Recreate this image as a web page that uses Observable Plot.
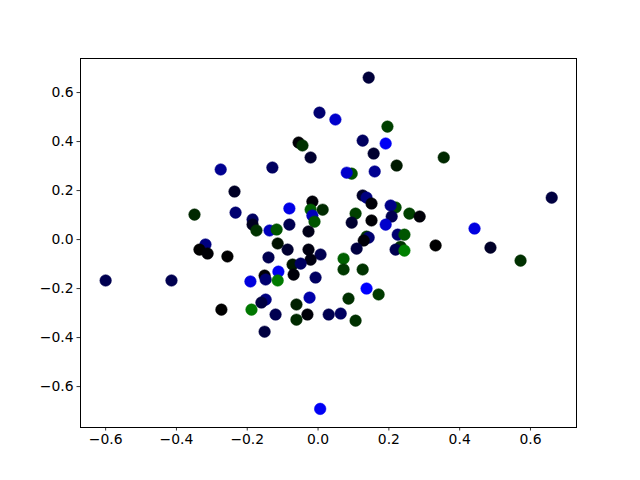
<!DOCTYPE html>
<html>
<head>
<meta charset="utf-8">
<script src="https://cdn.jsdelivr.net/npm/d3@7"></script>
<script src="https://cdn.jsdelivr.net/npm/@observablehq/plot@0.6"></script>
<style>
  html, body { margin: 0; padding: 0; background: #fff; }
  #chart { width: 640px; height: 480px; }
  svg { font-family: "DejaVu Sans", sans-serif; }
</style>
</head>
<body>
<div id="chart"></div>
<script>
const xs = [0.143,0.004,0.049,0.196,-0.055,-0.044,0.126,0.191,-0.021,0.157,
  0.355,0.222,-0.275,-0.129,0.095,0.081,0.160,-0.236,0.660,0.126,
  0.137,0.151,-0.016,-0.081,-0.021,0.013,-0.016,-0.010,-0.349,-0.233,
  0.219,0.205,0.106,0.258,0.287,0.208,0.095,0.151,0.191,0.442,
  -0.185,-0.185,-0.174,-0.137,-0.117,-0.081,-0.027,0.225,0.244,0.137,
  0.143,0.129,-0.114,-0.318,-0.335,-0.312,-0.256,-0.086,-0.027,0.007,
  -0.140,-0.021,-0.072,-0.049,-0.069,-0.007,-0.600,-0.414,-0.112,-0.151,
  -0.148,-0.191,-0.114,0.109,0.233,0.219,0.244,0.332,0.487,0.572,
  0.072,0.072,0.126,0.137,0.171,0.086,-0.024,-0.061,-0.148,-0.160,
  -0.273,-0.188,-0.120,-0.030,-0.061,0.030,0.064,0.106,-0.151,0.006];
const ys = [0.661,0.518,0.490,0.461,0.396,0.384,0.404,0.392,0.335,0.351,
  0.335,0.302,0.286,0.294,0.269,0.273,0.278,0.196,0.171,0.180,
  0.171,0.147,0.155,0.127,0.122,0.122,0.098,0.073,0.102,0.110,
  0.131,0.139,0.106,0.106,0.094,0.094,0.069,0.078,0.061,0.045,
  0.082,0.061,0.037,0.037,0.041,0.061,0.033,0.020,0.020,0.012,
  0.008,-0.004,-0.016,-0.020,-0.041,-0.057,-0.069,-0.041,-0.041,-0.061,
  -0.073,-0.082,-0.102,-0.098,-0.143,-0.155,-0.167,-0.167,-0.131,-0.147,
  -0.163,-0.171,-0.167,-0.037,-0.029,-0.041,-0.045,-0.024,-0.033,-0.086,
  -0.078,-0.122,-0.122,-0.200,-0.224,-0.241,-0.237,-0.265,-0.245,-0.257,
  -0.286,-0.286,-0.306,-0.306,-0.327,-0.306,-0.302,-0.331,-0.376,-0.691];
const colors = ["#00003a","#000070","#0000cc","#004000","#000005","#003300","#000060","#0000f5","#000030","#000030",
  "#002800","#001a00","#000090","#000060","#005000","#0000cc","#000090","#000025","#000040","#000028",
  "#000080","#000008","#000008","#0000e6","#006000","#002a00","#0000bb","#005500","#002800","#000070",
  "#004800","#000088","#004000","#004000","#000008","#000050","#000030","#000005","#0000cc","#0000e0",
  "#000060","#000020","#003300","#0000bb","#005500","#000050","#000018","#000070","#005500","#003800",
  "#000070","#000008","#001200","#000080","#000000","#000005","#000000","#000030","#000010","#000050",
  "#000050","#000010","#001800","#000060","#000008","#000060","#000050","#000050","#0000f0","#000005",
  "#000070","#0000dd","#007a00","#000040","#003300","#000050","#008000","#000000","#000028","#003000",
  "#006000","#003800","#003300","#0000ff","#003a00","#003000","#0000aa","#002000","#000080","#000040",
  "#000000","#007700","#000050","#000008","#002a00","#000050","#000060","#003000","#000040","#0000f5"];
const xTicks = [-0.6, -0.4, -0.2, 0.0, 0.2, 0.4, 0.6];
const yTicks = [-0.6, -0.4, -0.2, 0.0, 0.2, 0.4, 0.6];

const data = xs.map((x, i) => ({x, y: ys[i], c: colors[i]}));
const fmt = d => (d < 0 ? "\u2212" : "") + Math.abs(d).toFixed(1);

const chart = Plot.plot({
  width: 640,
  height: 480,
  marginLeft: 80,
  marginRight: 64,
  marginTop: 58,
  marginBottom: 53,
  style: {fontFamily: "DejaVu Sans, sans-serif", fontSize: "13.9px", color: "black", background: "white"},
  x: {domain: [-0.671, 0.730]},
  y: {domain: [-0.767, 0.739]},
  color: {type: "identity"},
  marks: [
    Plot.dot(data, {x: "x", y: "y", r: 5.8, fill: "c", stroke: "c", strokeWidth: 0.5}),
    Plot.frame({stroke: "black", strokeWidth: 1}),
    Plot.axisX({ticks: xTicks, tickFormat: fmt, tickSize: 3.5, tickPadding: 3.5, label: null, fontSize: 13.9, strokeWidth: 0.8}),
    Plot.axisY({ticks: yTicks, tickFormat: fmt, tickSize: 3.5, tickPadding: 3.5, label: null, fontSize: 13.9, strokeWidth: 0.8})
  ]
});
document.getElementById("chart").appendChild(chart);
</script>
</body>
</html>
